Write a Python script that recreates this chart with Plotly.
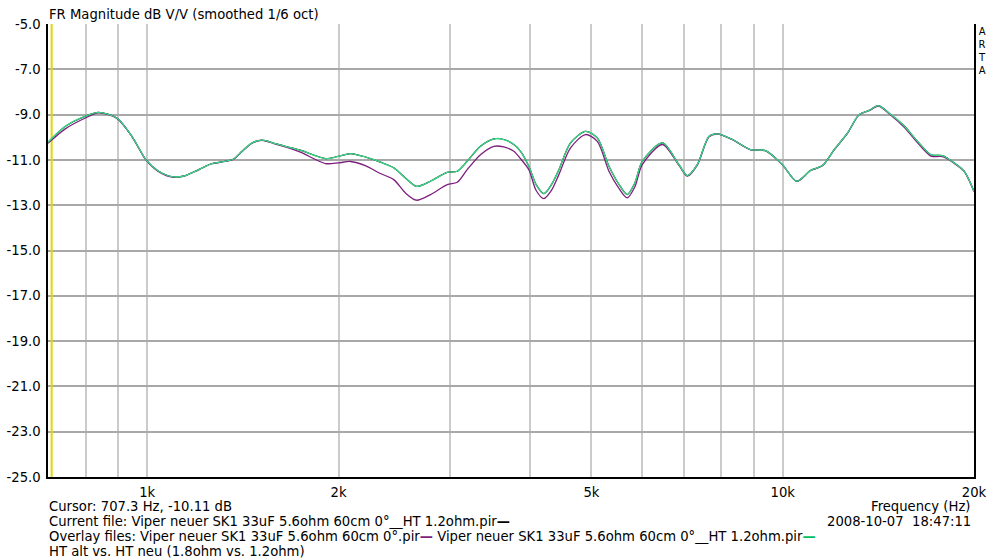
import math
import plotly.graph_objects as go

# ---- data ----
freq_hz = [698, 743, 799, 838, 896, 946, 996, 1042, 1100, 1148, 1205, 1264, 1327, 1368,
           1410, 1462, 1516, 1591, 1649, 1742, 1907, 2000, 2088, 2204, 2327, 2443, 2549,
           2652, 2791, 2965, 3075, 3188, 3345, 3512, 3640, 3775, 3868, 3986, 4093, 4209,
           4326, 4444, 4636, 4895, 5108, 5328, 5508, 5692, 5851, 6012, 6467, 6866, 7079,
           7338, 7656, 7892, 8334, 8905, 9402, 9990, 10520, 11070, 11550, 12050, 12650,
           13190, 13680, 14150, 14800, 15520, 16300, 17110, 17850, 18610, 19300, 20000]

current_db = [-10.22, -9.52, -9.07, -8.90, -9.15, -9.96, -11.00, -11.50, -11.75, -11.69,
              -11.43, -11.16, -11.06, -10.96, -10.62, -10.25, -10.13, -10.28, -10.40,
              -10.57, -10.94, -10.84, -10.72, -10.87, -11.10, -11.35, -11.80, -12.17,
              -11.94, -11.55, -11.50, -11.06, -10.40, -10.07, -10.10, -10.32, -10.62,
              -11.28, -12.09, -12.49, -12.09, -11.43, -10.25, -9.74, -10.03, -11.28,
              -12.02, -12.53, -12.02, -11.06, -10.25, -11.21, -11.69, -11.21, -9.96,
              -9.85, -10.10, -10.55, -10.59, -11.21, -11.94, -11.46, -11.25, -10.55,
              -9.81, -9.00, -8.81, -8.60, -9.00, -9.49, -10.18, -10.77, -10.81, -11.13,
              -11.50, -12.39]

overlay1_db = [-10.27, -9.63, -9.15, -8.92, -9.17, -9.97, -11.01, -11.52, -11.77, -11.70,
               -11.44, -11.17, -11.07, -10.97, -10.63, -10.26, -10.14, -10.30, -10.43,
               -10.66, -11.16, -11.13, -11.07, -11.25, -11.60, -11.87, -12.46, -12.78,
               -12.53, -12.09, -11.99, -11.43, -10.77, -10.40, -10.43, -10.62, -10.95,
               -11.43, -12.35, -12.71, -12.35, -11.65, -10.47, -9.88, -10.18, -11.50,
               -12.20, -12.68, -12.20, -11.21, -10.32, -11.24, -11.72, -11.23, -9.98,
               -9.86, -10.11, -10.56, -10.60, -11.22, -11.95, -11.47, -11.26, -10.56,
               -9.82, -9.01, -8.83, -8.62, -9.03, -9.55, -10.24, -10.83, -10.86, -11.15,
               -11.51, -12.40]

overlay2_db = list(current_db)

cursor_hz = 707.3
cursor_db = -10.11

x_grid = [800, 900, 1000, 2000, 3000, 4000, 5000, 6000, 7000, 8000, 9000, 10000, 20000]
x_labels = ["", "", "1k", "2k", "", "", "5k", "", "", "", "", "10k", "20k"]
y_ticks = [-25, -23, -21, -19, -17, -15, -13, -11, -9, -7, -5]
y_labels = ["%.1f" % v for v in y_ticks]

title_text = "FR Magnitude dB V/V (smoothed 1/6 oct)"
brand_text = "A<br>R<br>T<br>A"
current_file = "Viper neuer SK1 33uF 5.6ohm 60cm 0°__HT 1.2ohm.pir"
overlay_file1 = "Viper neuer SK1 33uF 5.6ohm 60cm 0°.pir"
overlay_file2 = "Viper neuer SK1 33uF 5.6ohm 60cm 0°__HT 1.2ohm.pir"
comment_text = "HT alt vs. HT neu (1.8ohm vs. 1.2ohm)"
date_text = "2008-10-07&nbsp;&nbsp;18:47:11"

C_BLACK = "#000000"
C_PURPLE = "#7d1f7d"
C_GREEN = "#38d888"
C_YELLOW = "#e2d800"

FONT = "DejaVu Sans, Verdana, sans-serif"
FS = 13.2

fig = go.Figure()
fig.add_trace(go.Scatter(x=[cursor_hz, cursor_hz], y=[-25, -5], mode="lines",
                         line=dict(color=C_YELLOW, width=2), hoverinfo="skip"))
fig.add_trace(go.Scatter(x=freq_hz, y=current_db, mode="lines",
                         line=dict(color=C_BLACK, width=1.2, shape="spline", smoothing=0.8)))
fig.add_trace(go.Scatter(x=freq_hz, y=overlay1_db, mode="lines",
                         line=dict(color=C_PURPLE, width=1.3, shape="spline", smoothing=0.8)))
fig.add_trace(go.Scatter(x=freq_hz, y=overlay2_db, mode="lines",
                         line=dict(color=C_GREEN, width=1.3, shape="spline", smoothing=0.8)))

fig.update_xaxes(type="log", range=[math.log10(698), math.log10(20000)],
                 tickmode="array", tickvals=x_grid, ticktext=x_labels,
                 showgrid=True, gridcolor="#cbcbcb", gridwidth=2,
                 showline=True, linecolor="#000000", linewidth=1.5, mirror=False,
                 ticks="", ticklabelstandoff=2, automargin=False,
                 tickfont=dict(family=FONT, size=FS, color="#000000"),
                 zeroline=False)
fig.update_yaxes(range=[-25, -5], tickmode="array", tickvals=y_ticks, ticktext=y_labels,
                 showgrid=True, gridcolor="#a8a8a8", gridwidth=1.5,
                 showline=True, linecolor="#000000", linewidth=1.5, mirror=True,
                 ticks="", ticklabelstandoff=3, automargin=False,
                 tickfont=dict(family=FONT, size=FS, color="#000000"),
                 zeroline=False)

def ann(text, x, y, xanchor="left", yanchor="middle", size=FS):
    fig.add_annotation(text=text, x=x, y=y, xref="paper", yref="paper",
                       xanchor=xanchor, yanchor=yanchor, showarrow=False, borderpad=0,
                       font=dict(family=FONT, size=size, color="#000000"))

def py(px):
    return (477 - px) / 453.0

def px_x(px):
    return (px - 48) / 926.0

dash = lambda c: '<span style="color:%s"><b>—</b></span>' % c

ann(title_text, 0, py(14))
ann(brand_text, px_x(982), py(25), xanchor="center", yanchor="top", size=10)
ann("Cursor: %.1f Hz, %.2f dB" % (cursor_hz, cursor_db), 0, py(506))
ann("Frequency (Hz)", px_x(971), py(506), xanchor="right")
ann("Current file: " + current_file + dash(C_BLACK), 0, py(521))
ann(date_text, px_x(972), py(521), xanchor="right")
ann("Overlay files: " + overlay_file1 + dash(C_PURPLE) + " " + overlay_file2 + dash("#00c060"),
    0, py(536))
ann(comment_text, 0, py(551))

fig.update_layout(width=991, height=560, showlegend=False,
                  margin=dict(l=48, r=17, t=24, b=83),
                  paper_bgcolor="#ffffff", plot_bgcolor="#ffffff",
                  font=dict(family=FONT, size=FS, color="#000000"))

fig.write_html("out.html")
